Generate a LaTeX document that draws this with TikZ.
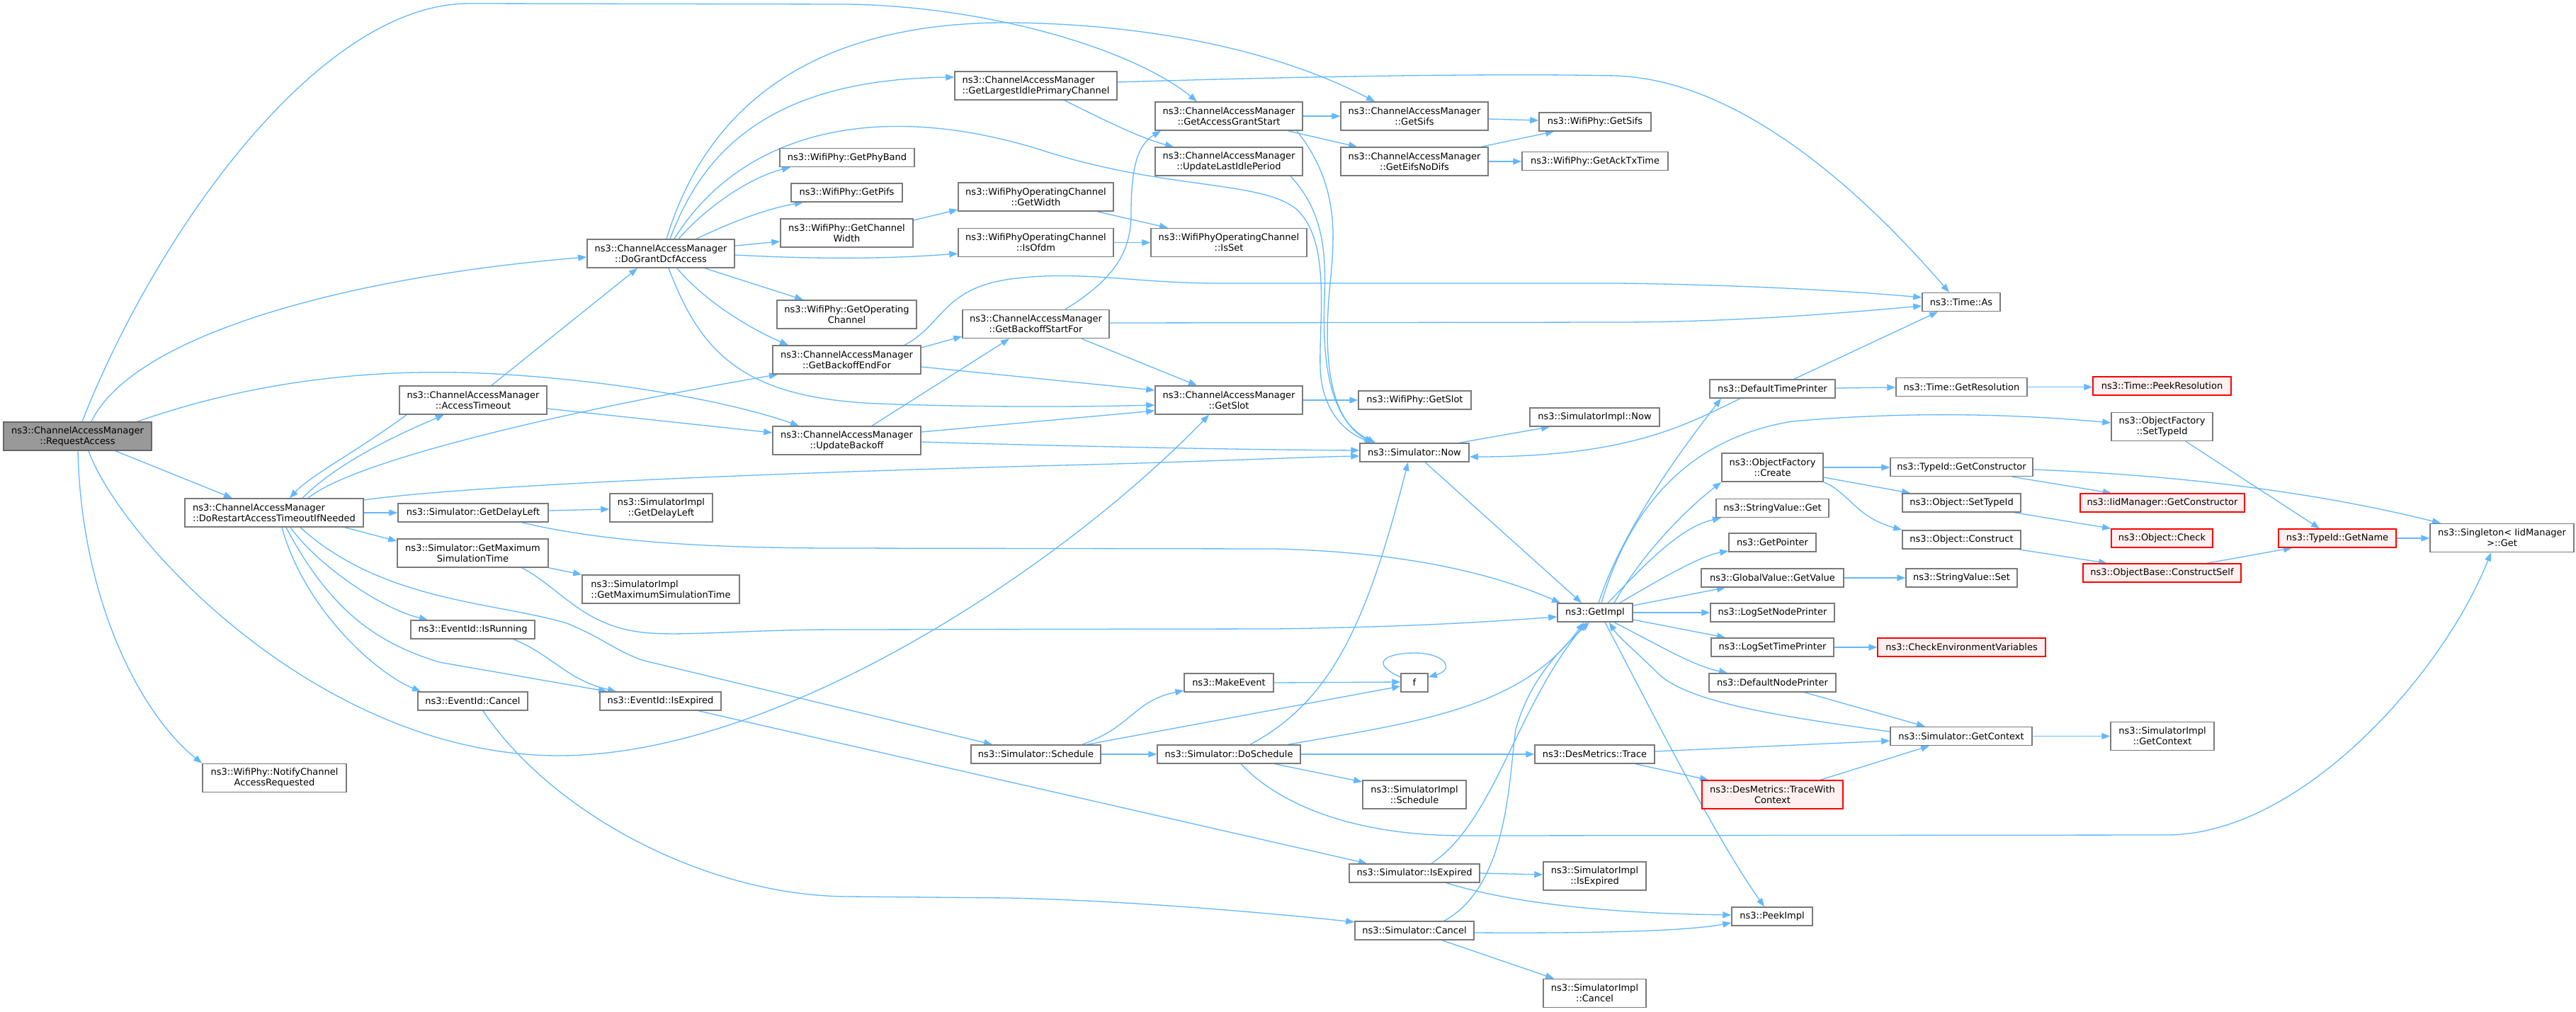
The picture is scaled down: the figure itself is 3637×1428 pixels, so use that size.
\documentclass[tikz,border=0pt]{standalone}
\usepackage{fontspec}
\newfontfamily\dvs{DejaVu Sans}
\usetikzlibrary{arrows.meta}
\definecolor{ec}{HTML}{63B8FF}
\definecolor{ndc}{HTML}{7A7A7A}
\definecolor{mainfill}{HTML}{999999}
\definecolor{maindraw}{HTML}{666666}
\definecolor{redfill}{HTML}{FFF0F0}
\definecolor{reddraw}{HTML}{FF0000}
\newcommand\nfont{\dvs\fontsize{13}{15}\selectfont}
\pgfdeclarelayer{bg}
\pgfsetlayers{bg,main}
\tikzset{
  nd/.style={draw=ndc, line width=1.5pt, fill=white, inner sep=0pt, align=center, font=\nfont},
  ndl/.style={nd, align=left},
  ndr/.style={nd, draw=reddraw, fill=redfill},
  ndm/.style={nd, fill=mainfill, draw=maindraw},
  wh/.style 2 args={minimum width=#1pt, minimum height=#2pt},
  edg/.style={draw=ec, line width=1.3pt, -{Triangle[length=12pt,width=9pt]}}
}
\begin{document}
\begin{tikzpicture}[x=1pt,y=-1pt]
\useasboundingbox (0,0) rectangle (3637,1428);
% nodes
\node[ndm, wh={209}{40}] (RA) at (109.5,616) {ns3::ChannelAccessManager\\::RequestAccess};
\node[ndl, wh={252}{40}] (DR) at (387,724) {ns3::ChannelAccessManager\\::DoRestartAccessTimeoutIfNeeded};
\node[nd, wh={208}{40}] (AT) at (668,565) {ns3::ChannelAccessManager\\::AccessTimeout};
\node[nd, wh={212}{26}] (GDL) at (668,724) {ns3::Simulator::GetDelayLeft};
\node[nd, wh={213}{40}] (GMST) at (667.5,781) {ns3::Simulator::GetMaximum\\SimulationTime};
\node[nd, wh={145}{40}] (SIGDL) at (933.5,717) {ns3::SimulatorImpl\\::GetDelayLeft};
\node[ndl, wh={222}{40}] (SIGMST) at (933,832) {ns3::SimulatorImpl\\::GetMaximumSimulationTime};
\node[nd, wh={175}{26}] (IsRunning) at (667.5,889) {ns3::EventId::IsRunning};
\node[nd, wh={155}{26}] (EvCancel) at (667.5,990) {ns3::EventId::Cancel};
\node[nd, wh={171}{26}] (EvIsExpired) at (932.5,990) {ns3::EventId::IsExpired};
\node[nd, wh={203}{40}] (Notify) at (387.5,1098.5) {ns3::WifiPhy::NotifyChannel\\AccessRequested};
\node[nd, wh={208}{40}] (DG) at (933,358) {ns3::ChannelAccessManager\\::DoGrantDcfAccess};
\node[ndl, wh={229}{40}] (GLIPC) at (1462.5,121) {ns3::ChannelAccessManager\\::GetLargestIdlePrimaryChannel};
\node[nd, wh={208}{40}] (GAGS) at (1735,164) {ns3::ChannelAccessManager\\::GetAccessGrantStart};
\node[nd, wh={208}{40}] (ULIP) at (1735,228) {ns3::ChannelAccessManager\\::UpdateLastIdlePeriod};
\node[nd, wh={190}{26}] (GPB) at (1196,222.5) {ns3::WifiPhy::GetPhyBand};
\node[nd, wh={157}{26}] (GetPifs) at (1195.5,272) {ns3::WifiPhy::GetPifs};
\node[nd, wh={187}{40}] (GCW) at (1195.5,329) {ns3::WifiPhy::GetChannel\\Width};
\node[nd, wh={219}{40}] (GetWidth) at (1462.5,278) {ns3::WifiPhyOperatingChannel\\::GetWidth};
\node[nd, wh={219}{40}] (IsOfdm) at (1462.5,342.5) {ns3::WifiPhyOperatingChannel\\::IsOfdm};
\node[nd, wh={220}{40}] (IsSet) at (1735,342.5) {ns3::WifiPhyOperatingChannel\\::IsSet};
\node[nd, wh={197}{40}] (GOC) at (1195.5,444) {ns3::WifiPhy::GetOperating\\Channel};
\node[nd, wh={209}{40}] (GBEF) at (1195.5,508) {ns3::ChannelAccessManager\\::GetBackoffEndFor};
\node[nd, wh={207}{40}] (GBSF) at (1462.5,457.5) {ns3::ChannelAccessManager\\::GetBackoffStartFor};
\node[nd, wh={208}{40}] (GetSlot) at (1735,565) {ns3::ChannelAccessManager\\::GetSlot};
\node[nd, wh={209}{40}] (UB) at (1195.5,622) {ns3::ChannelAccessManager\\::UpdateBackoff};
\node[nd, wh={208}{40}] (GetSifsCAM) at (1997,164) {ns3::ChannelAccessManager\\::GetSifs};
\node[nd, wh={208}{40}] (GEND) at (1997,228) {ns3::ChannelAccessManager\\::GetEifsNoDifs};
\node[nd, wh={158}{26}] (GetSifsWP) at (2252,172) {ns3::WifiPhy::GetSifs};
\node[nd, wh={206}{26}] (GetAck) at (2252,227.5) {ns3::WifiPhy::GetAckTxTime};
\node[nd, wh={159}{26}] (GetSlotWP) at (1997.5,565) {ns3::WifiPhy::GetSlot};
\node[nd, wh={183}{26}] (SimImplNow) at (2251.5,589) {ns3::SimulatorImpl::Now};
\node[nd, wh={154}{26}] (Now) at (1997,639) {ns3::Simulator::Now};
\node[nd, wh={110}{26}] (TimeAs) at (2769,426.5) {ns3::Time::As};
\node[nd, wh={177}{26}] (DTP) at (2502.5,549) {ns3::DefaultTimePrinter};
\node[nd, wh={185}{26}] (GetRes) at (2769.5,546.5) {ns3::Time::GetResolution};
\node[ndr, wh={195}{26}] (PeekRes) at (3052.5,545) {ns3::Time::PeekResolution};
\node[nd, wh={143}{40}] (OFCreate) at (2502.5,660) {ns3::ObjectFactory\\::Create};
\node[nd, wh={143}{40}] (OFSetTypeId) at (3052.5,602.5) {ns3::ObjectFactory\\::SetTypeId};
\node[nd, wh={201}{26}] (TIGetCons) at (2769.5,659.5) {ns3::TypeId::GetConstructor};
\node[ndr, wh={232}{26}] (IMGetCons) at (3053,710) {ns3::IidManager::GetConstructor};
\node[nd, wh={167}{26}] (ObjSetTypeId) at (2769.5,710) {ns3::Object::SetTypeId};
\node[ndr, wh={143}{26}] (ObjCheck) at (3052.5,760) {ns3::Object::Check};
\node[nd, wh={167}{26}] (ObjConstruct) at (2769.5,762) {ns3::Object::Construct};
\node[ndr, wh={223}{26}] (ConstructSelf) at (3052.5,809) {ns3::ObjectBase::ConstructSelf};
\node[ndr, wh={166}{26}] (GetName) at (3300,760) {ns3::TypeId::GetName};
\node[nd, wh={203}{40}] (Singleton) at (3532.5,759.5) {ns3::Singleton< IidManager\\ >::Get};
\node[nd, wh={159}{26}] (SVGet) at (2502.5,717.5) {ns3::StringValue::Get};
\node[nd, wh={123}{26}] (GetPointer) at (2502.5,766) {ns3::GetPointer};
\node[nd, wh={201}{26}] (GVGetValue) at (2502.5,816) {ns3::GlobalValue::GetValue};
\node[nd, wh={157}{26}] (SVSet) at (2769.5,816) {ns3::StringValue::Set};
\node[nd, wh={106}{26}] (GetImpl) at (2252,865) {ns3::GetImpl};
\node[nd, wh={175}{26}] (LSNP) at (2502.5,865) {ns3::LogSetNodePrinter};
\node[nd, wh={173}{26}] (LSTP) at (2502.5,914) {ns3::LogSetTimePrinter};
\node[ndr, wh={237}{26}] (CheckEnv) at (2769.5,914) {ns3::CheckEnvironmentVariables};
\node[nd, wh={179}{26}] (DNP) at (2502.5,964) {ns3::DefaultNodePrinter};
\node[nd, wh={38}{26}] (f) at (1997,964) {f};
\node[nd, wh={200}{26}] (GetContext) at (2769,1039.5) {ns3::Simulator::GetContext};
\node[nd, wh={146}{40}] (SIGetContext) at (3053,1039.5) {ns3::SimulatorImpl\\::GetContext};
\node[nd, wh={169}{26}] (Trace) at (2251.5,1065) {ns3::DesMetrics::Trace};
\node[ndr, wh={199}{40}] (TWC) at (2502.5,1122) {ns3::DesMetrics::TraceWith\\Context};
\node[nd, wh={126}{26}] (MakeEvent) at (1735,964) {ns3::MakeEvent};
\node[nd, wh={183}{26}] (Schedule) at (1462.5,1065) {ns3::Simulator::Schedule};
\node[nd, wh={202}{26}] (DoSchedule) at (1735,1065) {ns3::Simulator::DoSchedule};
\node[nd, wh={146}{40}] (SISchedule) at (1997,1122) {ns3::SimulatorImpl\\::Schedule};
\node[nd, wh={184}{26}] (SIsExpired) at (1997,1233) {ns3::Simulator::IsExpired};
\node[nd, wh={145}{40}] (SIIsExpired) at (2251.5,1237) {ns3::SimulatorImpl\\::IsExpired};
\node[nd, wh={114}{26}] (PeekImpl) at (2502,1294) {ns3::PeekImpl};
\node[nd, wh={168}{26}] (SCancel) at (1997,1314) {ns3::Simulator::Cancel};
\node[nd, wh={145}{40}] (SICancel) at (2251.5,1402.5) {ns3::SimulatorImpl\\::Cancel};
% edges
\begin{pgfonlayer}{bg}
\fill[white] (0,0) rectangle (3637,1428);
% RequestAccess
\draw[edg] (RA.north -| 116,0) .. controls (220,330) and (450,5) .. (662,5) -- (1200,6) .. controls (1400,10) and (1600,70) .. (GAGS.north -| 1690,0);
\draw[edg] (RA.north -| 129,0) .. controls (190,470) and (500,390) .. (DG.west |- 0,363);
\draw[edg] (RA.north -| 194,0) .. controls (380,530) and (560,520) .. (700,528) .. controls (880,538) and (1040,570) .. (UB.north -| 1128,0);
\draw[edg] (RA.south -| 163,0) -- (DR.north -| 328,0);
\draw[edg] (RA.south -| 125,0) .. controls (170,760) and (450,1067) .. (789,1067) .. controls (1100,1067) and (1500,800) .. (GetSlot.south -| 1707,0);
\draw[edg] (RA.south -| 110,0) .. controls (115,850) and (200,1010) .. (Notify.north west);
% DoRestart
\draw[edg] (DR.north -| 427,0) .. controls (480,650) and (570,610) .. (AT.south -| 627,0);
\draw[edg] (AT.south -| 574,0) .. controls (500,640) and (440,670) .. (DR.north -| 409,0);
\draw[edg] (DR.north -| 435,0) .. controls (500,650) and (800,580) .. (GBEF.south -| 1098,0);
\draw[edg] (DR.east |- 0,706) .. controls (700,680) and (1300,662) .. (1500,657) .. controls (1700,652) and (1850,645) .. (Now.west |- 0,644);
\draw[edg] (DR.east) -- (GDL.west);
\draw[edg] (DR.south -| 487,0) -- (GMST.west |- 0,764);
\draw[edg] (DR.south -| 410,0) .. controls (450,800) and (540,860) .. (IsRunning.north -| 604,0);
\draw[edg] (DR.south -| 398,0) .. controls (430,860) and (530,950) .. (EvCancel.north -| 594,0);
\draw[edg] (DR.south -| 404,0) .. controls (470,870) and (540,910) .. (620,935) -- (EvIsExpired.north -| 857,0);
\draw[edg] (DR.south -| 424,0) .. controls (540,850) and (700,850) .. (800,880) .. controls (850,900) and (870,920) .. (910,933) -- (Schedule.north -| 1401,0);
% AccessTimeout
\draw[edg] (AT.north -| 694,0) -- (DG.south -| 900,0);
\draw[edg] (AT.east |- 0,577) -- (UB.west |- 0,611);
% DoGrantDcfAccess
\draw[edg] (DG.north -| 946,0) .. controls (990,220) and (1080,112) .. (GLIPC.west |- 0,109);
\draw[edg] (DG.north -| 941,0) .. controls (1010,110) and (1200,30) .. (1430,32) .. controls (1650,35) and (1820,80) .. (GetSifsCAM.north -| 1941,0);
\draw[edg] (DG.north -| 952,0) .. controls (1050,180) and (1250,140) .. (1480,215) .. controls (1650,268) and (1780,255) .. (1830,295) .. controls (1880,340) and (1862,450) .. (1864,520) .. controls (1866,580) and (1900,612) .. (Now.north -| 1940,0);
\draw[edg] (DG.north -| 958,0) .. controls (1000,290) and (1060,250) .. (GPB.south -| 1116,0);
\draw[edg] (DG.north -| 983,0) .. controls (1030,315) and (1080,295) .. (GetPifs.south -| 1134,0);
\draw[edg] (DG.east |- 0,347) -- (GCW.west |- 0,341);
\draw[edg] (DG.east |- 0,360) .. controls (1150,366) and (1250,366) .. (IsOfdm.west |- 0,358);
\draw[edg] (DG.south -| 995,0) -- (GOC.north -| 1134,0);
\draw[edg] (DG.south -| 956,0) .. controls (990,420) and (1050,460) .. (GBEF.north -| 1113,0);
\draw[edg] (DG.south -| 944,0) .. controls (990,500) and (1050,562) .. (1240,570) .. controls (1400,576) and (1550,574) .. (GetSlot.west |- 0,572);
% GetLargestIdlePrimaryChannel
\draw[edg] (GLIPC.east |- 0,116) .. controls (1900,106) and (2150,104) .. (2280,107) .. controls (2450,112) and (2620,260) .. (TimeAs.north -| 2752,0);
\draw[edg] (GLIPC.south -| 1503,0) .. controls (1560,170) and (1610,195) .. (ULIP.north -| 1657,0);
% GetAccessGrantStart, UpdateLastIdlePeriod
\draw[edg] (GAGS.east) -- (GetSifsCAM.west);
\draw[edg] (GAGS.south -| 1818,0) -- (GEND.north -| 1916,0);
\draw[edg] (GAGS.south -| 1831,0) .. controls (1890,260) and (1885,330) .. (1878,400) .. controls (1868,500) and (1875,590) .. (Now.north -| 1938,0);
\draw[edg] (ULIP.south -| 1822,0) .. controls (1870,300) and (1872,360) .. (1870,420) .. controls (1866,520) and (1880,595) .. (Now.north -| 1942,0);
\draw[edg] (GBSF.north -| 1504,0) .. controls (1580,390) and (1597,350) .. (1597,300) .. controls (1597,240) and (1605,205) .. (GAGS.south -| 1639,0);
\draw[edg] (GetSifsCAM.east |- 0,168) -- (GetSifsWP.west |- 0,170);
\draw[edg] (GEND.north -| 2091,0) -- (GetSifsWP.south -| 2194,0);
\draw[edg] (GEND.east) -- (GetAck.west |- 0,228);
% WifiPhy
\draw[edg] (GCW.east |- 0,311) -- (GetWidth.west |- 0,296);
\draw[edg] (GetWidth.south -| 1549,0) -- (IsSet.north -| 1649,0);
\draw[edg] (IsOfdm.east) -- (IsSet.west);
% Backoff
\draw[edg] (GBEF.east |- 0,491) -- (GBSF.west |- 0,475);
\draw[edg] (GBEF.east |- 0,518) -- (GetSlot.west |- 0,551);
\draw[edg] (GBEF.north -| 1277,0) .. controls (1330,460) and (1330,410) .. (1420,395) .. controls (1520,380) and (1600,400) .. (1720,400) -- (2285,400) .. controls (2450,402) and (2600,410) .. (TimeAs.west |- 0,420);
\draw[edg] (GBSF.east |- 0,456) -- (2280,455) .. controls (2450,455) and (2600,442) .. (TimeAs.west |- 0,432);
\draw[edg] (GBSF.south -| 1527,0) -- (GetSlot.north -| 1690,0);
\draw[edg] (UB.north -| 1231,0) -- (GBSF.south -| 1425,0);
\draw[edg] (UB.east |- 0,610) -- (GetSlot.west |- 0,580);
\draw[edg] (UB.east |- 0,624) .. controls (1500,630) and (1750,635) .. (Now.west |- 0,636);
\draw[edg] (GetSlot.east) -- (GetSlotWP.west);
% Now, time printer
\draw[edg] (Now.north -| 2060,0) -- (SimImplNow.south -| 2188,0);
\draw[edg] (Now.south -| 2012,0) -- (GetImpl.north -| 2233,0);
\draw[edg] (DTP.south -| 2457,0) .. controls (2380,600) and (2300,645) .. (Now.east |- 0,645);
\draw[edg] (DTP.north -| 2533,0) -- (TimeAs.south -| 2736,0);
\draw[edg] (DTP.east |- 0,548) -- (GetRes.west |- 0,547);
\draw[edg] (GetRes.east) -- (PeekRes.west |- 0,546.5);
% GetImpl
\draw[edg] (GetImpl.north -| 2257,0) .. controls (2290,750) and (2370,640) .. (DTP.south -| 2430,0);
\draw[edg] (GetImpl.north -| 2261,0) .. controls (2300,720) and (2380,620) .. (2530,595) .. controls (2700,580) and (2850,585) .. (OFSetTypeId.west |- 0,597);
\draw[edg] (GetImpl.north -| 2279,0) .. controls (2320,780) and (2380,720) .. (OFCreate.south west);
\draw[edg] (GetImpl.north -| 2270,0) .. controls (2320,800) and (2370,745) .. (SVGet.south -| 2430,0);
\draw[edg] (GetImpl.north -| 2287,0) .. controls (2340,820) and (2400,785) .. (GetPointer.west |- 0,778);
\draw[edg] (GetImpl.east |- 0,855) -- (GVGetValue.south -| 2436,0);
\draw[edg] (GetImpl.east) -- (LSNP.west);
\draw[edg] (GetImpl.east |- 0,875) -- (LSTP.north -| 2436,0);
\draw[edg] (GetImpl.south -| 2279,0) .. controls (2340,910) and (2390,940) .. (DNP.north -| 2439,0);
\draw[edg] (GetImpl.south -| 2266,0) .. controls (2330,1000) and (2420,1180) .. (PeekImpl.north -| 2491,0);
\draw[edg] (GetContext.west |- 0,1033) .. controls (2500,1010) and (2380,990) .. (2340,950) .. controls (2310,920) and (2285,900) .. (GetImpl.south -| 2272,0);
\draw[edg] (DoSchedule.north -| 1818,0) .. controls (2000,1020) and (2150,1000) .. (GetImpl.south -| 2236,0);
\draw[edg] (SIsExpired.north -| 2021,0) .. controls (2110,1160) and (2140,1000) .. (GetImpl.south -| 2240,0);
\draw[edg] (SCancel.north -| 2039,0) .. controls (2130,1250) and (2130,1100) .. (2140,1030) .. controls (2160,960) and (2200,920) .. (GetImpl.south -| 2244,0);
% DoSchedule
\draw[edg] (DoSchedule.north -| 1765,0) .. controls (1880,990) and (1930,880) .. (Now.south -| 1988,0);
\draw[edg] (DoSchedule.east) -- (Trace.west);
\draw[edg] (DoSchedule.south -| 1800,0) -- (SISchedule.west |- 0,1104);
\draw[edg] (DoSchedule.south -| 1752,0) .. controls (1800,1130) and (1900,1180) .. (2067,1180) -- (3059,1179) .. controls (3250,1179) and (3450,950) .. (Singleton.south -| 3517,0);
% DesMetrics / context
\draw[edg] (Trace.east |- 0,1061) -- (GetContext.west |- 0,1046);
\draw[edg] (Trace.south -| 2309,0) -- (TWC.north -| 2412,0);
\draw[edg] (TWC.north -| 2570,0) -- (GetContext.south -| 2724,0);
\draw[edg] (DNP.south -| 2548,0) -- (GetContext.north -| 2718,0);
\draw[edg] (GetContext.east) -- (SIGetContext.west);
% Schedule
\draw[edg] (Schedule.north -| 1528,0) .. controls (1600,1025) and (1600,990) .. (MakeEvent.west |- 0,975);
\draw[edg] (Schedule.east) -- (DoSchedule.west);
\draw[edg] (Schedule.north -| 1535,0) -- (f.west |- 0,969);
\draw[edg] (MakeEvent.east) -- (f.west |- 0,963);
\draw[edg] (f.west |- 0,956) .. controls (1930,935) and (1960,922) .. (1997,922) .. controls (2040,922) and (2055,945) .. (f.east |- 0,956);
% IsExpired / Cancel
\draw[edg] (SIsExpired.east) -- (SIIsExpired.west |- 0,1235);
\draw[edg] (SIsExpired.south -| 2042,0) .. controls (2150,1280) and (2300,1290) .. (PeekImpl.west |- 0,1292);
\draw[edg] (SCancel.east |- 0,1317) .. controls (2250,1318) and (2380,1315) .. (PeekImpl.west |- 0,1303);
\draw[edg] (SCancel.south -| 2036,0) -- (SICancel.north -| 2194,0);
\draw[edg] (EvCancel.south -| 682,0) .. controls (780,1150) and (1000,1266) .. (1200,1266) -- (1425,1268) .. controls (1600,1272) and (1800,1290) .. (SCancel.west |- 0,1302);
\draw[edg] (EvIsExpired.south -| 986,0) -- (SIsExpired.north -| 1930,0);
\draw[edg] (IsRunning.south -| 725,0) .. controls (780,925) and (800,960) .. (EvIsExpired.north -| 870,0);
% Simulator getters
\draw[edg] (GDL.east |- 0,721) -- (SIGDL.west |- 0,719);
\draw[edg] (GDL.south -| 737,0) .. controls (850,765) and (1000,774) .. (1183,774) -- (1800,775) .. controls (2000,780) and (2120,815) .. (GetImpl.north -| 2203,0);
\draw[edg] (GMST.south east) -- (SIGMST.north west);
\draw[edg] (GMST.south -| 737,0) .. controls (790,830) and (820,880) .. (900,892) .. controls (950,900) and (1050,889) .. (1183,889) -- (1800,888) .. controls (2000,885) and (2100,878) .. (GetImpl.west |- 0,871);
% Object factory
\draw[edg] (OFCreate.east) -- (TIGetCons.west |- 0,660);
\draw[edg] (OFCreate.east |- 0,674) -- (ObjSetTypeId.north -| 2697,0);
\draw[edg] (OFCreate.south east) .. controls (2610,695) and (2620,730) .. (ObjConstruct.north west);
\draw[edg] (TIGetCons.south -| 2841,0) -- (IMGetCons.north -| 2981,0);
\draw[edg] (TIGetCons.east |- 0,663) .. controls (3050,670) and (3250,690) .. (Singleton.north -| 3446,0);
\draw[edg] (ObjSetTypeId.south -| 2844,0) -- (ObjCheck.north west);
\draw[edg] (ObjConstruct.south -| 2850,0) -- (ConstructSelf.north -| 2975,0);
\draw[edg] (ConstructSelf.north -| 3116,0) -- (GetName.south -| 3236,0);
\draw[edg] (OFSetTypeId.south -| 3086,0) -- (GetName.north -| 3275,0);
\draw[edg] (GetName.east) -- (Singleton.west |- 0,760);
\draw[edg] (GVGetValue.east) -- (SVSet.west);
\draw[edg] (LSTP.east) -- (CheckEnv.west);
\end{pgfonlayer}
\end{tikzpicture}
\end{document}
